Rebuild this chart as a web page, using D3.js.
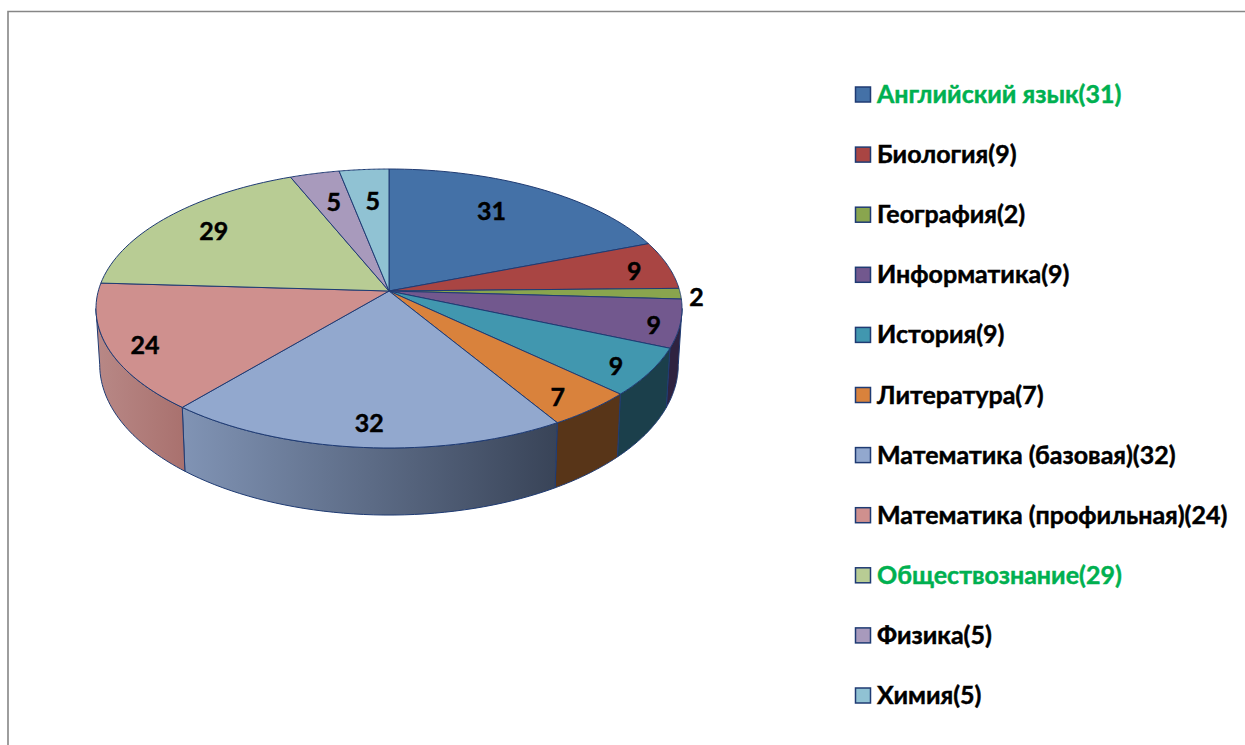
<!DOCTYPE html>
<html><head><meta charset="utf-8">
<script src="https://cdnjs.cloudflare.com/ajax/libs/d3/7.8.5/d3.min.js"></script>
<style>html,body{margin:0;padding:0;background:#fff;overflow:hidden}svg{display:block}
text{font-family:Lato,"Noto Sans",sans-serif;font-weight:700;stroke:currentColor;stroke-width:.45px}</style></head><body>
<svg id="c" width="1245" height="745"></svg>
<script>
const categories=["Английский язык","Биология","География","Информатика","История","Литература","Математика (базовая)","Математика (профильная)","Обществознание","Физика","Химия"];
const seriesValues=[31,9,2,9,9,7,32,24,29,5,5];
const tickLabels=["Английский язык(31)","Биология(9)","География(2)","Информатика(9)","История(9)","Литература(7)","Математика (базовая)(32)","Математика (профильная)(24)","Обществознание(29)","Физика(5)","Химия(5)"];
const topColors=["#4471a7","#a94543","#89a54e","#72588e","#4197af","#d9823c","#92a8ce","#cf908e","#b8cc94","#a89abc","#90c2d3"];
const wallColors=["#2a4464","#662a28","#52632f","#2f2340","#1b3f4b","#583518","#000000","#a96f6c","#6e7b58","#655c71","#567480"];
const legendGreen=[0,8];
const labelNudge=[[-12,-1],[35,-1],[89,4],[48,10],[35,15],[21,20],[-1,19],[-36,12],[-7,-3],[2,1],[3,4]];

const svg=d3.select("#c");
const edge="#1f3b73";
const k=.1255;
const top3={cx:389,cy:291,R:290.7,S:137.3};
const bot3={cx:389,cy:345.8,R:287,S:148};
const project=(g,a,r=1)=>{const u=Math.sin(a)*r,v=-Math.cos(a)*r,d=1-k*v;return [g.cx+g.R*u/d,g.cy+g.S*v/d];};
const arcs=d3.pie().sort(null)(seriesValues);
const line=d3.line();
const rim=(g,a0,a1)=>d3.range(0,41).map(i=>project(g,a0+(a1-a0)*i/40));
// the rim is widest where v equals k: walls exist only on the near side of that
const nearStart=Math.acos(-k), nearEnd=2*Math.PI-nearStart;

const defs=svg.append("defs");
const grad=defs.append("linearGradient").attr("id","blueWall").attr("gradientUnits","userSpaceOnUse").attr("x1",185).attr("x2",555).attr("y1",0).attr("y2",0);
grad.append("stop").attr("offset",0).attr("stop-color","#8093b4");
grad.append("stop").attr("offset",1).attr("stop-color","#394458");
const grad2=defs.append("linearGradient").attr("id","pinkWall").attr("gradientUnits","userSpaceOnUse").attr("x1",97).attr("x2",185).attr("y1",0).attr("y2",0);
grad2.append("stop").attr("offset",0).attr("stop-color","#b88886");
grad2.append("stop").attr("offset",1).attr("stop-color","#a9716e");

// frame
svg.append("path").attr("d",line([[8,745],[8,11.5],[1245,11.5]])).attr("fill","none").attr("stroke","#868686").attr("stroke-width",1.6);

// walls: only slices facing the viewer
const front=d3.range(arcs.length).filter(i=>arcs[i].endAngle>nearStart&&arcs[i].startAngle<nearEnd);
svg.append("g").selectAll("path").data(front).join("path")
 .attr("d",i=>{const a0=Math.max(arcs[i].startAngle,nearStart),a1=Math.min(arcs[i].endAngle,nearEnd);return line(rim(top3,a0,a1).concat(rim(bot3,a1,a0)))+"Z";})
 .attr("fill",i=>i===6?"url(#blueWall)":i===7?"url(#pinkWall)":wallColors[i])
 .attr("stroke",edge).attr("stroke-width",1).attr("stroke-linejoin","round");

// top faces
svg.append("g").selectAll("path").data(arcs).join("path")
 .attr("d",a=>line([[top3.cx,top3.cy]].concat(rim(top3,a.startAngle,a.endAngle)))+"Z")
 .attr("fill",(a,i)=>topColors[i]).attr("stroke",edge).attr("stroke-width",1).attr("stroke-linejoin","round");

// value labels
svg.append("g").selectAll("text").data(arcs).join("text")
 .attr("transform",(a,i)=>{const p=project(top3,(a.startAngle+a.endAngle)/2,.75);return `translate(${p[0]+labelNudge[i][0]},${p[1]+labelNudge[i][1]})`;})
 .attr("text-anchor","middle").attr("dy",".36em").attr("font-size",25).attr("fill","#000").style("color","#000").text(a=>a.value);

// legend
const ly=d3.scalePoint().domain(d3.range(categories.length)).range([94,695]);
const lg=svg.append("g").selectAll("g").data(d3.range(categories.length)).join("g").attr("transform",i=>`translate(855,${ly(i)})`);
lg.append("rect").attr("x",.5).attr("y",-7).attr("width",15).attr("height",15).attr("fill",i=>topColors[i]).attr("stroke",edge).attr("stroke-width",1.5);
lg.append("text").attr("x",22).attr("dy",".36em").attr("font-size",25)
 .attr("fill",i=>legendGreen.includes(i)?"#00b050":"#000").style("color",i=>legendGreen.includes(i)?"#00b050":"#000").text(i=>tickLabels[i]);
</script></body></html>
